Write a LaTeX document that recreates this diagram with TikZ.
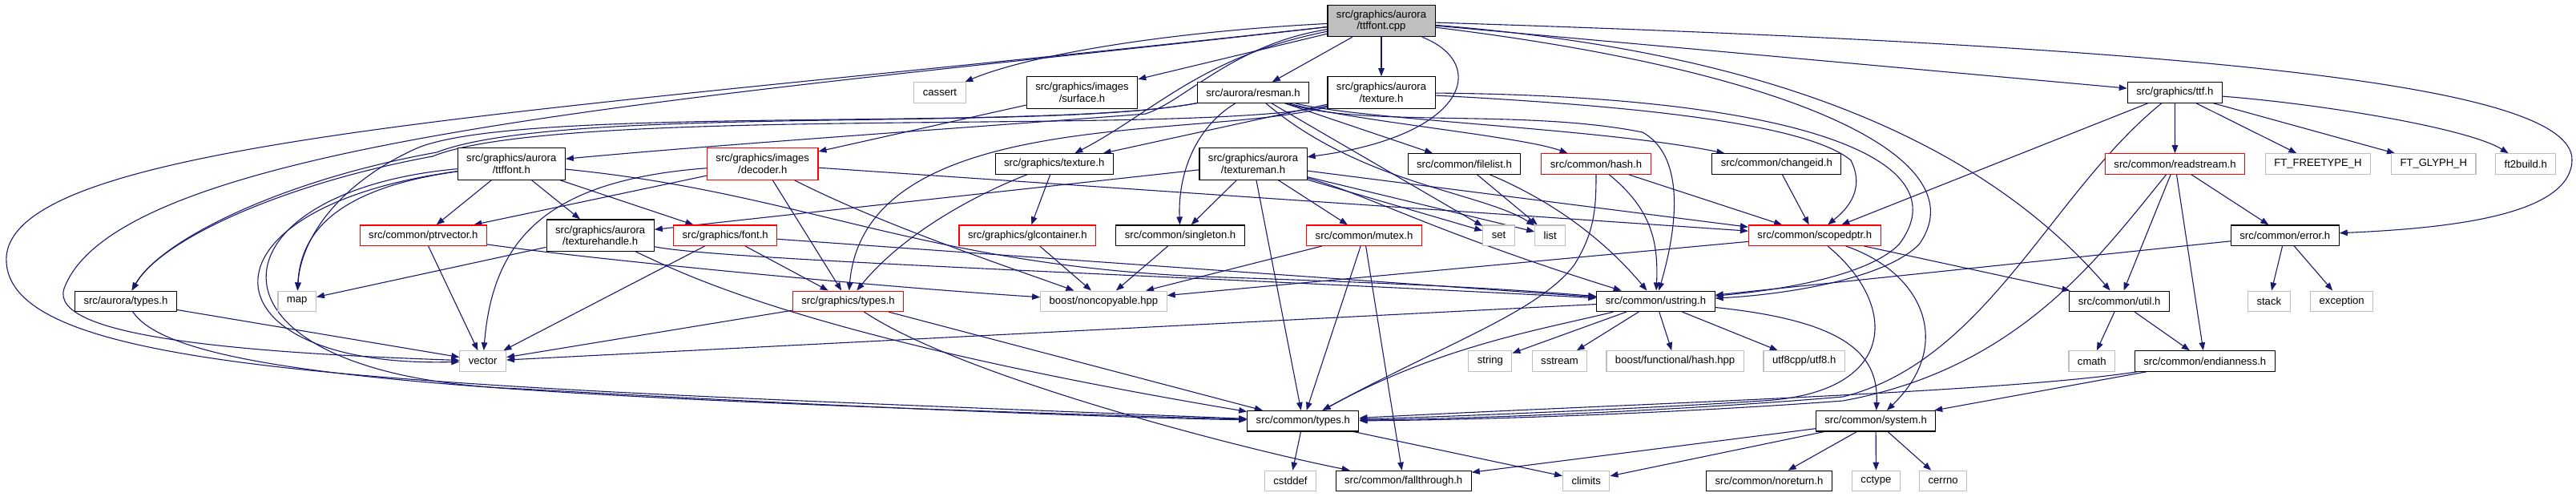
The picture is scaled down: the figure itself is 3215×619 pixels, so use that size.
\documentclass[tikz,border=0pt]{standalone}
\usepackage{fontspec}
\setmainfont{Liberation Sans}
\usepackage{tikz}
\usetikzlibrary{arrows.meta, backgrounds}

\definecolor{midnight}{RGB}{25,25,112}
\definecolor{grisclair}{RGB}{191,191,191}

\begin{document}
\begin{tikzpicture}[
      x=1pt, y=-1pt,
      box/.style={
          draw,
          rectangle,
          line width=1.1pt,
          fill=white,
          align=center,
          inner xsep=11pt,
          inner ysep=2pt,
          minimum height=25.5pt,
          font=\fontsize{13.1}{14.6}\selectfont
      },
      srcbox/.style={box, draw=black, fill=grisclair},
      hdrbox/.style={box, draw=black},
      redbox/.style={box, draw=red},
      sysbox/.style={box, draw=grisclair},
      twoline/.style={minimum height=39.5pt},
      arrow/.style={-{Triangle[length=10pt, width=7.5pt]}, line width=1.1pt, color=midnight}
  ]

  \useasboundingbox (0,0) rectangle (3215,619);

  % ══════════════════════════════
  % NIVEAU 0 : fichier source
  % ══════════════════════════════
  \node[srcbox, twoline] (cpp) at (1724,26) {src/graphics/aurora\\/ttffont.cpp};

  % ══════════════════════════════
  % NIVEAU 1
  % ══════════════════════════════
  \node[sysbox] (cassert) at (1173,115.5) {cassert};
  \node[hdrbox, twoline] (surface) at (1350.5,115.5) {src/graphics/images\\/surface.h};
  \node[hdrbox] (resman) at (1564,115.5) {src/aurora/resman.h};
  \node[hdrbox, twoline] (atexture) at (1724,115.5) {src/graphics/aurora\\/texture.h};
  \node[hdrbox] (ttf) at (2714.3,115.5) {src/graphics/ttf.h};

  % ══════════════════════════════
  % NIVEAU 2
  % ══════════════════════════════
  \node[hdrbox, twoline] (attffont) at (638.3,204.5) {src/graphics/aurora\\/ttffont.h};
  \node[redbox, twoline] (decoder) at (951.7,204.5) {src/graphics/images\\/decoder.h};
  \node[hdrbox] (gtexture) at (1315.7,204.5) {src/graphics/texture.h};
  \node[hdrbox, twoline] (textureman) at (1564,204.5) {src/graphics/aurora\\/textureman.h};
  \node[hdrbox] (filelist) at (1827.5,204.5) {src/common/filelist.h};
  \node[redbox] (hash) at (1992,204.5) {src/common/hash.h};
  \node[hdrbox] (changeid) at (2217.3,204.5) {src/common/changeid.h};
  \node[redbox] (readstream) at (2714.5,204.5) {src/common/readstream.h};
  \node[sysbox] (ftfreetype) at (2893,204.5) {FT\_FREETYPE\_H};
  \node[sysbox] (ftglyph) at (3037.2,204.5) {FT\_GLYPH\_H};
  \node[sysbox] (ftbuild) at (3152.2,204.5) {ft2build.h};

  % ══════════════════════════════
  % NIVEAU 3
  % ══════════════════════════════
  \node[redbox] (ptrvector) at (528.3,293.7) {src/common/ptrvector.h};
  \node[hdrbox, twoline] (texhandle) at (749.2,293.7) {src/graphics/aurora\\/texturehandle.h};
  \node[redbox] (fonth) at (905.2,293.7) {src/graphics/font.h};
  \node[redbox] (glcontainer) at (1282.3,293.7) {src/graphics/glcontainer.h};
  \node[hdrbox] (singleton) at (1473.1,293.7) {src/common/singleton.h};
  \node[redbox] (mutex) at (1702.5,293.7) {src/common/mutex.h};
  \node[sysbox] (setlib) at (1870.5,293.7) {set};
  \node[sysbox] (listlib) at (1934.7,293.7) {list};
  \node[redbox] (scopedptr) at (2264.8,293.7) {src/common/scopedptr.h};
  \node[hdrbox] (errorh) at (2851.8,293.7) {src/common/error.h};

  % ══════════════════════════════
  % NIVEAU 4
  % ══════════════════════════════
  \node[hdrbox] (auroratypes) at (157,375.8) {src/aurora/types.h};
  \node[sysbox] (maplib) at (370.7,375.8) {map};
  \node[redbox] (gtypes) at (1058.5,375.8) {src/graphics/types.h};
  \node[sysbox] (noncopy) at (1377.4,375.8) {boost/noncopyable.hpp};
  \node[hdrbox] (ustring) at (2066.5,375.8) {src/common/ustring.h};
  \node[hdrbox] (util) at (2645.1,375.8) {src/common/util.h};
  \node[sysbox] (stacklib) at (2831.8,375.8) {stack};
  \node[sysbox] (exceptlib) at (2922.7,375.8) {exception};

  % ══════════════════════════════
  % NIVEAU 5
  % ══════════════════════════════
  \node[sysbox] (veclib) at (602.7,450.5) {vector};
  \node[sysbox] (strlib) at (1859.9,450.5) {string};
  \node[sysbox] (sstreamlib) at (1946.5,450.5) {sstream};
  \node[sysbox] (boosthash) at (2090.6,450.5) {boost/functional/hash.hpp};
  \node[sysbox] (utf8) at (2251.7,450.5) {utf8cpp/utf8.h};
  \node[sysbox] (cmathlib) at (2610.8,450.5) {cmath};
  \node[hdrbox] (endian) at (2751.8,450.5) {src/common/endianness.h};

  % ══════════════════════════════
  % NIVEAUX 6 et 7
  % ══════════════════════════════
  \node[hdrbox] (ctypes) at (1626.3,525.2) {src/common/types.h};
  \node[hdrbox] (system) at (2341.1,525.2) {src/common/system.h};

  \node[sysbox] (cstddef) at (1610.5,600) {cstddef};
  \node[hdrbox] (fallthrough) at (1751.7,600) {src/common/fallthrough.h};
  \node[sysbox] (climits) at (1979.7,600) {climits};
  \node[hdrbox] (noreturn) at (2208,600) {src/common/noreturn.h};
  \node[sysbox] (cctype) at (2341.4,600) {cctype};
  \node[sysbox] (cerrno) at (2425.1,600) {cerrno};

  \begin{scope}[on background layer]
  % ══════════════════════════════
  % FLÈCHES — ttffont.cpp
  % ══════════════════════════════
  \draw[arrow] (cpp) .. controls (1450,40) and (1280,70) .. (cassert);
  \draw[arrow] (cpp) -- (surface);
  \draw[arrow] (cpp) -- (resman);
  \draw[arrow] (cpp) -- (atexture);
  \draw[arrow] (cpp) .. controls (1540,55) and (1480,125) .. (1430,142)
      .. controls (1200,160) and (900,180) .. (attffont);
  \draw[arrow] (cpp) .. controls (1860,80) and (1830,170) .. (textureman);
  \draw[arrow] (cpp) .. controls (1500,70) and (1440,140) .. (gtexture);
  \draw[arrow] (cpp) -- (ttf);
  \draw[arrow] (cpp) .. controls (2150,60) and (2450,150) .. (util);
  \draw[arrow] (cpp) .. controls (2800,60) and (3212,110) .. (3210,200)
      .. controls (3208,270) and (3050,285) .. (errorh);
  \draw[arrow] (cpp) .. controls (2250,90) and (2470,200) .. (2395,305)
      .. controls (2350,350) and (2220,368) .. (ustring);
  \draw[arrow] (cpp) .. controls (900,120) and (150,170) .. (80,360)
      .. controls (60,420) and (300,440) .. (veclib);
  \draw[arrow] (cpp) .. controls (700,140) and (20,170) .. (8,320)
      .. controls (0,470) and (500,480) .. (ctypes);

  % ══════════════════════════════
  % FLÈCHES — niveau 1
  % ══════════════════════════════
  \draw[arrow] (surface) -- (decoder);

  \draw[arrow] (resman) -- (filelist);
  \draw[arrow] (resman) .. controls (1680,150) and (1900,170) .. (hash);
  \draw[arrow] (resman) .. controls (1700,150) and (2000,160) .. (changeid);
  \draw[arrow] (resman) .. controls (1490,160) and (1470,220) .. (singleton);
  \draw[arrow] (resman) -- (setlib);
  \draw[arrow] (resman) .. controls (1700,230) and (1850,240) .. (listlib);
  \draw[arrow] (resman) .. controls (1300,165) and (650,130) .. (520,185)
      .. controls (420,230) and (375,300) .. (maplib);
  \draw[arrow] (resman) .. controls (1300,165) and (700,130) .. (545,190)
      .. controls (350,225) and (200,300) .. (auroratypes);
  \draw[arrow] (resman) .. controls (1700,160) and (1900,135) .. (2050,165)
      .. controls (2095,190) and (2100,260) .. (ustring);

  \draw[arrow] (atexture) -- (gtexture);
  \draw[arrow] (atexture) .. controls (1500,175) and (1080,130) .. (gtypes);
  \draw[arrow] (atexture) .. controls (1500,170) and (700,130) .. (540,195)
      .. controls (350,230) and (200,300) .. (auroratypes);
  \draw[arrow] (atexture) .. controls (2000,130) and (2250,150) .. (2310,200)
      .. controls (2330,240) and (2300,265) .. (scopedptr);
  \draw[arrow] (atexture) .. controls (2250,120) and (2450,200) .. (2370,305)
      .. controls (2330,345) and (2220,362) .. (ustring);

  \draw[arrow] (ttf) -- (readstream);
  \draw[arrow] (ttf) -- (ftfreetype);
  \draw[arrow] (ttf) -- (ftglyph);
  \draw[arrow] (ttf) .. controls (2900,130) and (3080,160) .. (ftbuild);
  \draw[arrow] (ttf) -- (scopedptr);
  \draw[arrow] (ttf) .. controls (2560,240) and (2480,450) .. (2300,495)
      .. controls (2100,512) and (1850,522) .. (ctypes);

  % ══════════════════════════════
  % FLÈCHES — niveau 2
  % ══════════════════════════════
  \draw[arrow] (attffont) -- (ptrvector);
  \draw[arrow] (attffont) -- (texhandle);
  \draw[arrow] (attffont) -- (fonth);
  \draw[arrow] (attffont) .. controls (420,235) and (375,290) .. (maplib);
  \draw[arrow] (attffont) .. controls (230,260) and (250,460) .. (veclib);
  \draw[arrow] (attffont) .. controls (250,240) and (230,470) .. (650,485)
      .. controls (1000,505) and (1350,520) .. (ctypes);
  \draw[arrow] (attffont) .. controls (1000,240) and (1150,330) .. (1500,345)
      .. controls (1800,355) and (1900,362) .. (ustring);

  \draw[arrow] (decoder) -- (ptrvector);
  \draw[arrow] (decoder) -- (gtypes);
  \draw[arrow] (decoder) .. controls (680,225) and (615,300) .. (veclib);
  \draw[arrow] (decoder) .. controls (1100,280) and (1250,330) .. (noncopy);
  \draw[arrow] (decoder) -- (scopedptr);

  \draw[arrow] (gtexture) -- (glcontainer);
  \draw[arrow] (gtexture) .. controls (1200,250) and (1120,300) .. (gtypes);

  \draw[arrow] (textureman) -- (texhandle);
  \draw[arrow] (textureman) -- (singleton);
  \draw[arrow] (textureman) -- (mutex);
  \draw[arrow] (textureman) -- (setlib);
  \draw[arrow] (textureman) -- (listlib);
  \draw[arrow] (textureman) -- (scopedptr);
  \draw[arrow] (textureman) -- (ctypes);
  \draw[arrow] (textureman) .. controls (1700,240) and (1790,290) .. (ustring);

  \draw[arrow] (filelist) -- (listlib);
  \draw[arrow] (filelist) .. controls (1960,260) and (2020,320) .. (ustring);
  \draw[arrow] (hash) .. controls (2060,260) and (2070,300) .. (ustring);
  \draw[arrow] (hash) .. controls (1992,260) and (1990,290) .. (1965,330)
      .. controls (1920,390) and (1800,430) .. (ctypes);
  \draw[arrow] (hash) -- (scopedptr);
  \draw[arrow] (changeid) -- (scopedptr);

  \draw[arrow] (readstream) -- (errorh);
  \draw[arrow] (readstream) -- (util);
  \draw[arrow] (readstream) -- (endian);
  \draw[arrow] (readstream) .. controls (2620,320) and (2520,460) .. (2300,500)
      .. controls (2100,515) and (1850,524) .. (ctypes);

  % ══════════════════════════════
  % FLÈCHES — niveau 3
  % ══════════════════════════════
  \draw[arrow] (ptrvector) -- (veclib);
  \draw[arrow] (ptrvector) .. controls (750,325) and (1100,358) .. (noncopy);
  \draw[arrow] (texhandle) -- (maplib);
  \draw[arrow] (texhandle) .. controls (850,340) and (1000,420) .. (ctypes);
  \draw[arrow] (texhandle) .. controls (900,325) and (1500,345) .. (ustring);
  \draw[arrow] (fonth) -- (gtypes);
  \draw[arrow] (fonth) -- (veclib);
  \draw[arrow] (fonth) -- (ustring);

  \draw[arrow] (glcontainer) -- (noncopy);
  \draw[arrow] (singleton) -- (noncopy);
  \draw[arrow] (mutex) -- (noncopy);
  \draw[arrow] (mutex) -- (ctypes);
  \draw[arrow] (mutex) -- (fallthrough);

  \draw[arrow] (scopedptr) -- (noncopy);
  \draw[arrow] (scopedptr) -- (util);
  \draw[arrow] (scopedptr) .. controls (2370,380) and (2370,490) .. (2200,500)
      .. controls (2050,510) and (1800,520) .. (ctypes);
  \draw[arrow] (scopedptr) .. controls (2400,340) and (2440,430) .. (system);

  \draw[arrow] (errorh) -- (stacklib);
  \draw[arrow] (errorh) -- (exceptlib);
  \draw[arrow] (errorh) -- (ustring);

  % ══════════════════════════════
  % FLÈCHES — niveaux 4 à 6
  % ══════════════════════════════
  \draw[arrow] (auroratypes) -- (veclib);
  \draw[arrow] (auroratypes) .. controls (220,470) and (600,495) .. (ctypes);
  \draw[arrow] (gtypes) -- (veclib);
  \draw[arrow] (gtypes) -- (ctypes);
  \draw[arrow] (gtypes) .. controls (1200,470) and (1550,560) .. (fallthrough);

  \draw[arrow] (ustring) -- (strlib);
  \draw[arrow] (ustring) -- (sstreamlib);
  \draw[arrow] (ustring) -- (boosthash);
  \draw[arrow] (ustring) -- (utf8);
  \draw[arrow] (ustring) -- (veclib);
  \draw[arrow] (ustring) .. controls (1930,410) and (1800,430) .. (ctypes);
  \draw[arrow] (ustring) .. controls (2300,400) and (2345,440) .. (system);

  \draw[arrow] (util) -- (cmathlib);
  \draw[arrow] (util) -- (endian);
  \draw[arrow] (endian) -- (system);
  \draw[arrow] (endian) .. controls (2500,490) and (2000,505) .. (ctypes);

  \draw[arrow] (ctypes) -- (cstddef);
  \draw[arrow] (ctypes) -- (climits);
  \draw[arrow] (system) -- (noreturn);
  \draw[arrow] (system) -- (cctype);
  \draw[arrow] (system) -- (cerrno);
  \draw[arrow] (system) -- (climits);
  \draw[arrow] (system) -- (fallthrough);
  \end{scope}

\end{tikzpicture}
\end{document}
